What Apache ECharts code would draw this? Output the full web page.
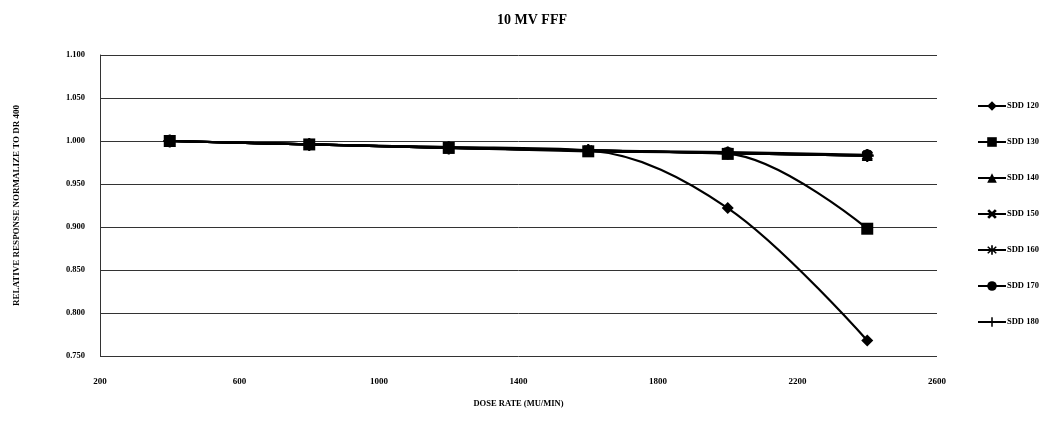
<!DOCTYPE html>
<html>
<head>
<meta charset="utf-8">
<script src="https://cdn.jsdelivr.net/npm/echarts@6/dist/echarts.min.js"></script>
<style>html,body{margin:0;padding:0;background:#fff;}#c{width:1054px;height:425px;}</style>
</head>
<body>
<div id="c"></div>
<script>
const doseRates = [400, 800, 1200, 1600, 2000, 2400];
const seriesNames = ['SDD 120', 'SDD 130', 'SDD 140', 'SDD 150', 'SDD 160', 'SDD 170', 'SDD 180'];
const sdd120 = [1.000, 0.996, 0.993, 0.989, 0.922, 0.768];
const sdd130 = [1.000, 0.996, 0.992, 0.988, 0.985, 0.898];
const sdd140 = [1.000, 0.996, 0.992, 0.989, 0.986, 0.983];
const sdd150 = [1.000, 0.996, 0.992, 0.989, 0.986, 0.983];
const sdd160 = [1.000, 0.996, 0.992, 0.989, 0.986, 0.983];
const sdd170 = [1.000, 0.996, 0.993, 0.989, 0.987, 0.984];
const sdd180 = [1.000, 0.996, 0.992, 0.989, 0.986, 0.983];
const yTicks = ['0.750', '0.800', '0.850', '0.900', '0.950', '1.000', '1.050', '1.100'];
const xTicks = ['200', '600', '1000', '1400', '1800', '2200', '2600'];

const allValues = [sdd120, sdd130, sdd140, sdd150, sdd160, sdd170, sdd180];
const symbols = [
  'diamond',
  'rect',
  'triangle',
  'path://M2,0 L5,3 L8,0 L10,2 L7,5 L10,8 L8,10 L5,7 L2,10 L0,8 L3,5 L0,2 Z',
  'path://M4.2,0 H5.8 V3.6 L8.6,1 L9.6,2.2 L6.6,5 L9.6,7.8 L8.6,9 L5.8,6.4 V10 H4.2 V6.4 L1.4,9 L0.4,7.8 L3.4,5 L0.4,2.2 L1.4,1 L4.2,3.6 Z',
  'circle',
  'path://M4.2,0 H5.8 V4.2 H10 V5.8 H5.8 V10 H4.2 V5.8 H0 V4.2 H4.2 Z'
];
const sizes = [12, 12, 11, 11, 11, 11, 13];
const font = '"Liberation Serif", "DejaVu Serif", serif';

const series = seriesNames.map((name, i) => ({
  name: name,
  type: 'line',
  smooth: 0.35,
  data: doseRates.map((x, j) => [x, allValues[i][j]]),
  symbol: symbols[i],
  symbolSize: sizes[i],
  lineStyle: { color: '#000', width: 2.2 },
  itemStyle: { color: '#000' },
  z: 10 - i
}));

const chart = echarts.init(document.getElementById('c'), null, { renderer: 'canvas' });
chart.setOption({
  animation: false,
  backgroundColor: '#fff',
  title: {
    text: '10 MV FFF',
    left: 527, top: 8, textAlign: 'center',
    textStyle: { fontFamily: font, fontWeight: 'bold', fontSize: 14, color: '#000' }
  },
  grid: { left: 100, right: 117, top: 55, bottom: 69 },
  legend: {
    orient: 'vertical',
    left: 972, top: 95,
    itemWidth: 28, itemHeight: 12, itemGap: 24,
    data: seriesNames.map(n => ({ name: n })),
    textStyle: { fontFamily: font, fontWeight: 'bold', fontSize: 8.5, color: '#000', padding: [0, 0, 0, -4], height: 12, lineHeight: 12 }
  },
  xAxis: {
    type: 'value',
    min: 200, max: 2600, interval: 400,
    name: 'DOSE RATE (MU/MIN)',
    nameLocation: 'middle', nameGap: 43,
    nameTextStyle: { fontFamily: font, fontWeight: 'bold', fontSize: 8.5, color: '#000' },
    axisLine: { show: false },
    axisTick: { show: false },
    splitLine: { show: false },
    axisLabel: {
      fontFamily: font, fontWeight: 'bold', fontSize: 9, color: '#000', margin: 21,
      formatter: function (v) { return xTicks[Math.round((v - 200) / 400)]; }
    }
  },
  yAxis: {
    type: 'value',
    min: 0.75, max: 1.1, interval: 0.05,
    name: 'RELATIVE RESPONSE NORMALIZE TO DR 400',
    nameLocation: 'middle', nameGap: 79, nameRotate: 90,
    nameTextStyle: { fontFamily: font, fontWeight: 'bold', fontSize: 9, color: '#000' },
    axisLine: { show: true, lineStyle: { color: '#333', width: 1 } },
    axisTick: { show: false },
    splitLine: { show: true, lineStyle: { color: '#333', width: 1 } },
    axisLabel: {
      fontFamily: font, fontWeight: 'bold', fontSize: 8.5, color: '#000', margin: 15,
      formatter: function (v) { return yTicks[Math.round((v - 0.75) / 0.05)]; }
    }
  },
  series: series
});
</script>
</body>
</html>
